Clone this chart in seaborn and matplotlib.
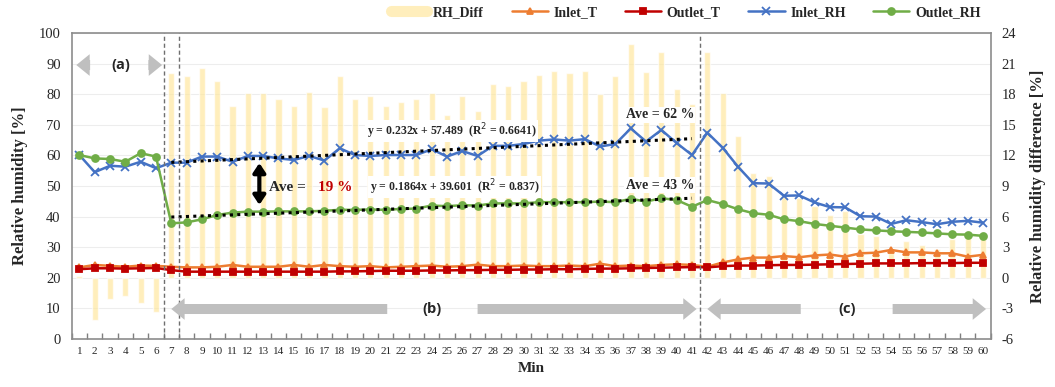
import numpy as np
import pandas as pd
import matplotlib
matplotlib.use("Agg")
from matplotlib import pyplot as plt
from matplotlib.lines import Line2D
import seaborn as sns

# minute index on the x axis
minutes = list(range(1, 61))

# right axis: RH difference [%]
rh_diff = [0.2, -4.1, -2.1, -1.8, -2.5, -3.4, 20.1, 19.8, 20.6, 19.3,
           16.8, 18.1, 18.1, 17.5, 16.8, 18.2, 16.7, 19.8, 17.5, 17.8,
           16.8, 17.2, 17.5, 18.1, 16.0, 17.8, 16.3, 19.0, 18.8, 19.3,
           19.9, 20.3, 20.1, 20.3, 18.0, 19.8, 22.9, 20.2, 22.1, 18.5,
           17.0, 22.1, 18.1, 13.9, 10.3, 10.0, 8.0, 7.8, 7.0, 6.2,
           6.5, 4.3, 4.1, 2.4, 3.6, 3.2, 2.8, 3.8, 4.2, 3.9]

# left axis: temperatures and relative humidities
inlet_t = [23.4, 24.2, 23.9, 23.6, 24.0, 23.9, 23.6, 23.4, 23.4, 23.6,
           24.2, 23.6, 23.6, 23.6, 24.2, 23.6, 24.2, 23.8, 23.6, 23.8,
           23.4, 23.6, 23.8, 24.0, 23.6, 23.8, 24.3, 23.8, 23.8, 24.0,
           23.8, 23.8, 24.0, 23.8, 24.6, 23.8, 24.0, 23.8, 24.2, 24.4,
           24.2, 23.6, 25.0, 26.0, 26.6, 26.6, 27.1, 26.7, 27.3, 27.6,
           26.9, 28.0, 28.2, 29.1, 28.3, 28.3, 28.0, 28.0, 26.9, 27.5]
outlet_t = [22.8, 23.1, 23.1, 23.0, 23.1, 23.2, 22.5, 22.0, 22.0, 22.0,
            22.0, 22.0, 22.0, 22.0, 22.0, 22.0, 22.0, 22.1, 22.1, 22.2,
            22.3, 22.3, 22.3, 22.4, 22.4, 22.5, 22.5, 22.6, 22.6, 22.7,
            22.7, 22.8, 22.8, 22.9, 23.0, 23.0, 23.1, 23.2, 23.3, 23.4,
            23.5, 23.4, 23.8, 24.0, 24.0, 24.1, 24.2, 24.2, 24.3, 24.4,
            24.5, 24.6, 24.7, 24.7, 24.7, 24.8, 24.8, 24.8, 24.9, 24.9]
inlet_rh = [60.1, 54.5, 56.6, 56.3, 57.9, 55.8, 57.6, 57.6, 59.6, 59.6,
            57.9, 59.8, 59.8, 59.0, 58.5, 59.8, 58.3, 62.3, 60.1, 59.8,
            60.1, 60.1, 60.1, 62.0, 59.6, 61.4, 59.8, 63.1, 63.1, 63.7,
            64.8, 65.2, 64.8, 65.3, 62.9, 63.7, 68.8, 64.5, 68.3, 64.0,
            60.1, 67.4, 62.5, 56.3, 50.9, 50.8, 46.8, 46.9, 44.6, 43.1,
            43.0, 40.1, 40.0, 37.6, 38.8, 38.2, 37.5, 38.3, 38.6, 38.0]
outlet_rh = [60.1, 59.0, 58.8, 57.9, 60.7, 59.6, 37.8, 38.1, 39.1, 40.5,
             41.3, 41.6, 41.6, 41.7, 41.7, 41.7, 41.9, 42.2, 42.2, 42.3,
             42.2, 42.5, 42.6, 43.6, 43.4, 43.7, 43.6, 44.3, 44.3, 44.3,
             44.7, 44.7, 44.7, 44.7, 44.9, 44.7, 45.8, 44.9, 46.0, 45.4,
             43.2, 45.4, 44.1, 42.4, 41.1, 40.6, 39.1, 38.5, 37.6, 37.0,
             36.4, 35.8, 35.5, 35.2, 35.0, 34.8, 34.5, 34.2, 34.1, 33.7]

series_names = ["Inlet_T", "Outlet_T", "Inlet_RH", "Outlet_RH"]
series_colors = ["#ED7D31", "#C00000", "#4472C4", "#70AD47"]
series_markers = ["^", "s", "x", "o"]
series_msize = [4.5, 5, 5.5, 5]

df = pd.DataFrame({"Min": minutes, "RH_Diff": rh_diff, "Inlet_T": inlet_t,
                   "Outlet_T": outlet_t, "Inlet_RH": inlet_rh, "Outlet_RH": outlet_rh})
fit_df = df[(df["Min"] >= 7) & (df["Min"] <= 41)]

sns.set_theme(style="white")
plt.rcParams["font.family"] = ["Liberation Serif", "DejaVu Serif"]
plt.rcParams["axes.unicode_minus"] = False

fig, ax = plt.subplots(figsize=(10.55, 3.87), dpi=100)
fig.subplots_adjust(left=0.068, right=0.939, bottom=0.124, top=0.915)
ax2 = ax.twinx()

# bars on the right axis (behind)
sns.barplot(data=df, x="Min", y="RH_Diff", native_scale=True, width=0.4,
            color="#FFE699", alpha=0.65, saturation=1, errorbar=None, ax=ax2)
ax2.set_ylim(-6, 24)
ax2.set_yticks(range(-6, 25, 3))
ax2.yaxis.grid(True, color="#EDEDED", lw=0.8)
ax2.set_axisbelow(True)
ax2.set_ylabel("Relative humidity difference [%]", fontsize=12, fontweight="bold", labelpad=10)
ax2.tick_params(axis="y", length=0, labelsize=10.5, pad=8)
for sp in ax2.spines.values():
    sp.set_visible(False)

ax.set_zorder(ax2.get_zorder() + 1)
ax.patch.set_visible(False)

for name, col, mk, ms in zip(series_names, series_colors, series_markers, series_msize):
    sns.lineplot(data=df, x="Min", y=name, color=col, marker=mk, markersize=ms,
                 markeredgecolor=col, markeredgewidth=1.3, lw=1.8, label=name, ax=ax)

# linear trend lines over section (b)
line_kws = dict(color="black", ls=(0, (1, 1.4)), lw=2.2)
sns.regplot(data=fit_df, x="Min", y="Inlet_RH", scatter=False, ci=None, line_kws=line_kws, ax=ax)
sns.regplot(data=fit_df, x="Min", y="Outlet_RH", scatter=False, ci=None, line_kws=line_kws, ax=ax)

# phase boundaries
for xv in [6.5, 7.5, 41.5]:
    ax.axvline(xv, color="#6F6F6F", ls=(0, (3, 2)), lw=1)

# grey phase arrows
grey = dict(arrowstyle="simple,head_length=0.8,head_width=1.3,tail_width=0.6",
            fc="#BFBFBF", ec="none", mutation_scale=12, shrinkA=0, shrinkB=0)
for tail, head, yv in [(1.7, 0.8, 89.5), (5.5, 6.4, 89.5), (21.1, 7.0, 9.8),
                       (27.0, 41.3, 9.8), (48.1, 42.0, 9.8), (54.1, 60.2, 9.8)]:
    ax.annotate("", xy=(head, yv), xytext=(tail, yv), arrowprops=grey)
for lbl, xv, yv in [("(a)", 3.7, 89.5), ("(b)", 24.0, 9.8), ("(c)", 51.1, 9.8)]:
    ax.text(xv, yv, lbl, ha="center", va="center", fontsize=10.5, fontweight="bold",
            family=["Open Sans", "DejaVu Sans"], color="#262626")

# black double arrow and annotations
ax.annotate("", xy=(12.75, 43.8), xytext=(12.75, 57.5),
            arrowprops=dict(arrowstyle="<|-|>,head_length=0.45,head_width=0.3",
                            color="black", lw=3, shrinkA=0, shrinkB=0))
ax.text(13.4, 49.6, "Ave =", fontsize=11, fontweight="bold", va="center", ha="left")
ax.text(16.55, 49.6, "19 %", fontsize=11, fontweight="bold", va="center", ha="left", color="#C00000")
box = dict(facecolor="white", edgecolor="none", pad=1)
ax.text(25.3, 68.0, "y = 0.232x + 57.489  (R$^2$ = 0.6641)", fontsize=8.5, fontweight="bold",
        ha="center", va="center", bbox=box)
ax.text(25.5, 49.6, "y = 0.1864x + 39.601  (R$^2$ = 0.837)", fontsize=8.5, fontweight="bold",
        ha="center", va="center", bbox=box)
ax.text(38.9, 73.2, "Ave = 62 %", fontsize=10, fontweight="bold", ha="center", va="center", bbox=box)
ax.text(38.9, 50.2, "Ave = 43 %", fontsize=10, fontweight="bold", ha="center", va="center", bbox=box)

ax.set_ylim(0, 100)
ax.set_yticks(range(0, 101, 10))
ax.set_xlim(0.5, 60.5)
ax.set_xticks(minutes)
ax.set_xticklabels([str(m) for m in minutes], fontsize=8)
ax.set_xticks(np.arange(0.5, 61, 1), minor=True)
ax.tick_params(axis="x", which="major", length=0, pad=6)
ax.tick_params(axis="x", which="minor", direction="in", length=4, color="#7F7F7F", bottom=True)
ax.tick_params(axis="y", length=0, labelsize=10.5, pad=8)
ax.set_xlabel("Min", fontsize=11, fontweight="bold", labelpad=4)
ax.set_ylabel("Relative humidity [%]", fontsize=12, fontweight="bold", labelpad=8)
for sp in ax.spines.values():
    sp.set_visible(True)
    sp.set_color("#8C8C8C")
    sp.set_linewidth(1.2)

h, l = ax.get_legend_handles_labels()
ax.get_legend().remove()
handles = [Line2D([], [], color="#FFE699", lw=8, alpha=0.65)] + h
labels = ["RH_Diff"] + l
fig.legend(handles, labels, loc="center right", bbox_to_anchor=(0.936, 0.968), ncol=5,
           frameon=False, borderpad=0, handlelength=2.6, handletextpad=0.4, columnspacing=2.0,
           prop=dict(weight="bold", size=10, family=["Liberation Serif"]))

fig.savefig("out.png", dpi=100)
